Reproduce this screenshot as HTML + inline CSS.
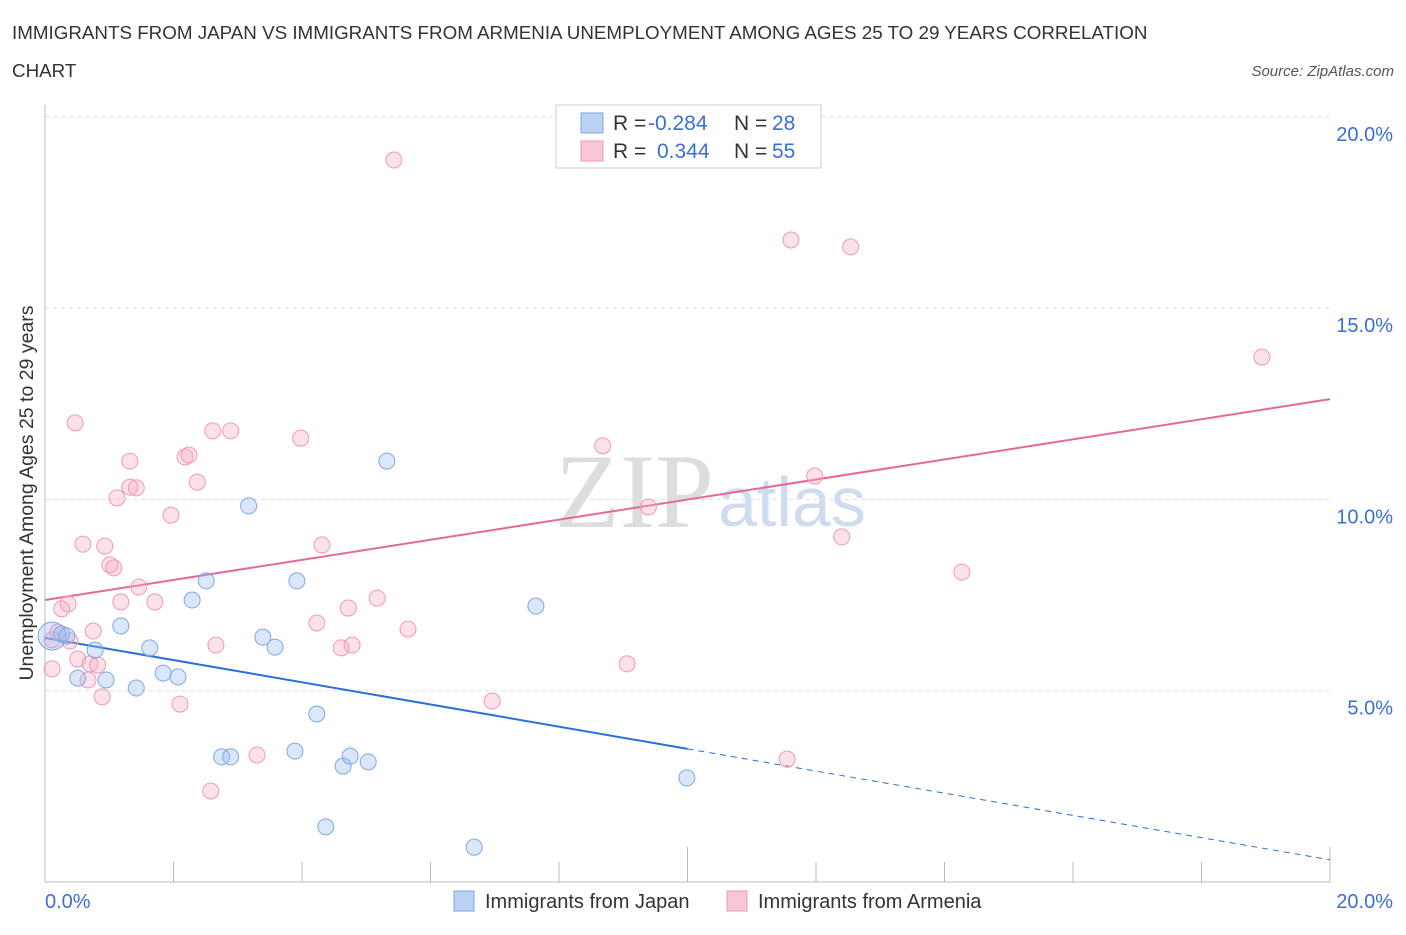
<!DOCTYPE html>
<html><head><meta charset="utf-8"><style>
body{margin:0;background:#fff;font-family:"Liberation Sans",sans-serif;}
</style></head><body>
<svg id="chart" width="1406" height="930" style="font-family:'Liberation Sans',sans-serif">
<text x="12" y="39" font-size="18.8" fill="#333">IMMIGRANTS FROM JAPAN VS IMMIGRANTS FROM ARMENIA UNEMPLOYMENT AMONG AGES 25 TO 29 YEARS CORRELATION</text>
<text x="12" y="77" font-size="18.8" fill="#333">CHART</text>
<text x="1394" y="76" font-size="15" fill="#555" font-style="italic" text-anchor="end">Source: ZipAtlas.com</text>
<text x="33" y="493" font-size="19.5" fill="#333" text-anchor="middle" transform="rotate(-90 33 493)">Unemployment Among Ages 25 to 29 years</text>
<text x="714" y="527" font-size="106" fill="#ddd" text-anchor="end" style="font-family:'Liberation Serif',serif">ZIP</text>
<text x="718" y="526" font-size="70" fill="#cfdcef">atlas</text>
<g id="grid"></g><g id="trends"></g><g id="pts"></g>
<g>
<rect x="556" y="105" width="265" height="63" fill="#fff" stroke="#ccc"/>
<rect x="581" y="113" width="22" height="20" fill="#b9d1f3" stroke="#7fa7e3"/>
<rect x="581" y="141" width="22" height="20" fill="#f9c6d5" stroke="#ef9ab5"/>
<text y="130" font-size="21" fill="#333"><tspan x="613">R =</tspan><tspan x="648" fill="#3a6fd8">-0.284</tspan><tspan x="734">N =</tspan><tspan x="772" fill="#3a6fd8">28</tspan></text>
<text y="158" font-size="21" fill="#333"><tspan x="613">R =</tspan><tspan x="657" fill="#3a6fd8">0.344</tspan><tspan x="734">N =</tspan><tspan x="772" fill="#3a6fd8">55</tspan></text>
</g>
<g>
<rect x="454" y="891" width="20" height="20" fill="#b9d1f3" stroke="#7fa7e3"/>
<text x="485" y="908" font-size="20" fill="#333">Immigrants from Japan</text>
<rect x="727" y="891" width="20" height="20" fill="#f9c6d5" stroke="#ef9ab5"/>
<text x="758" y="908" font-size="20" fill="#333">Immigrants from Armenia</text>
</g>
</svg>
<script>
const yTicks=[5,10,15,20];
const yTickLabels=["5.0%","10.0%","15.0%","20.0%"];
const xTickLabels=["0.0%","20.0%"];
const japanX=[0.11,0.26,0.34,0.51,0.78,0.95,1.18,1.42,1.63,1.84,2.07,2.29,2.51,2.75,2.89,3.17,3.39,3.58,3.89,3.92,4.23,4.37,4.64,4.75,5.03,5.32,6.68,7.64,9.99];
const japanY=[6.43,6.48,6.43,5.33,6.06,5.28,6.69,5.07,6.12,5.46,5.36,7.37,7.87,3.27,3.27,9.83,6.40,6.14,3.42,7.87,4.39,1.44,3.03,3.29,3.14,11.0,0.91,7.21,2.72];
const armX=[0.11,0.11,0.20,0.26,0.36,0.39,0.47,0.51,0.59,0.67,0.70,0.75,0.82,0.89,0.93,1.01,1.07,1.12,1.18,1.32,1.32,1.42,1.46,1.71,1.96,2.10,2.18,2.24,2.37,2.58,2.61,2.66,2.89,3.30,3.98,4.23,4.31,4.61,4.72,4.78,5.17,5.43,5.65,6.96,8.68,9.06,9.39,11.55,11.61,11.98,12.40,12.54,14.27,18.94];
const armY=[5.57,6.33,6.53,7.14,7.27,6.30,12.0,5.83,8.83,5.28,5.70,6.56,5.67,4.84,8.78,8.29,8.21,10.04,7.32,11.0,10.32,10.30,7.71,7.32,9.59,4.65,11.11,11.16,10.45,2.38,11.79,6.19,11.79,3.32,11.60,6.77,8.81,6.12,7.16,6.19,7.42,18.87,6.61,4.73,11.40,5.70,9.80,3.21,16.78,10.61,9.02,16.60,8.10,13.72];
const japanTrend=[6.38,-0.29];
const armTrend=[7.37,0.2625];
const NS="http://www.w3.org/2000/svg";
const X=v=>45+v*64.25, Y=v=>882-v*38.26;
function mk(p,t,a){const e=document.createElementNS(NS,t);for(const k in a)e.setAttribute(k,a[k]);p.appendChild(e);return e;}
const grid=document.getElementById('grid');
yTicks.forEach((t,i)=>{
 const l=mk(grid,'line',{x1:45,x2:1330,y1:Y(t),y2:Y(t),stroke:'#ddd','stroke-dasharray':'4,4'});
 
 
 const tx=mk(grid,'text',{x:1393,y:Y(t)+24,'font-size':20,fill:'#3a6fd8','text-anchor':'end'});tx.textContent=yTickLabels[i];
 
 
});
mk(grid,'line',{x1:45,x2:45,y1:105,y2:882,stroke:'#bbb'});
mk(grid,'line',{x1:45,x2:1330,y1:882,y2:882,stroke:'#bbb'});
for(let i=0;i<=10;i++){mk(grid,'line',{x1:X(i*2),x2:X(i*2),y1:862,y2:882,stroke:'#bbb'});
 if(i%5==0&&i>0)mk(grid,'line',{x1:X(i*2),x2:X(i*2),y1:847,y2:882,stroke:'#bbb'});}
[[0,45,'start'],[20,1393,'end']].forEach((d,i)=>{const t=mk(grid,'text',{x:d[1],y:908,'font-size':20,fill:'#3a6fd8','text-anchor':d[2]});t.textContent=xTickLabels[i];
 
 });
const tr=document.getElementById('trends');
const f=(t,x)=>t[0]+t[1]*x;
let l1=mk(tr,'line',{x1:X(0),y1:Y(f(japanTrend,0)),x2:X(10),y2:Y(f(japanTrend,10)),stroke:'#2a6fd8','stroke-width':2});


let l2=mk(tr,'line',{x1:X(10),y1:Y(f(japanTrend,10)),x2:X(20),y2:Y(f(japanTrend,20)),stroke:'#2a6fd8','stroke-width':1,'stroke-dasharray':'6,5'});


let l3=mk(tr,'line',{x1:X(0),y1:Y(f(armTrend,0)),x2:X(20),y2:Y(f(armTrend,20)),stroke:'#e8679a','stroke-width':2});


const pts=document.getElementById('pts');
armX.forEach((x,i)=>{const c=mk(pts,'circle',{cx:X(x),cy:Y(armY[i]),r:8,fill:'rgba(245,170,195,0.35)',stroke:'#ef9ab5','stroke-width':1});
 
 });
japanX.forEach((x,i)=>{const c=mk(pts,'circle',{cx:X(x),cy:Y(japanY[i]),r:i==0?14:8,fill:'rgba(150,185,240,0.35)',stroke:'#7fa7e3','stroke-width':1});
 
 });
</script>
</body></html>
